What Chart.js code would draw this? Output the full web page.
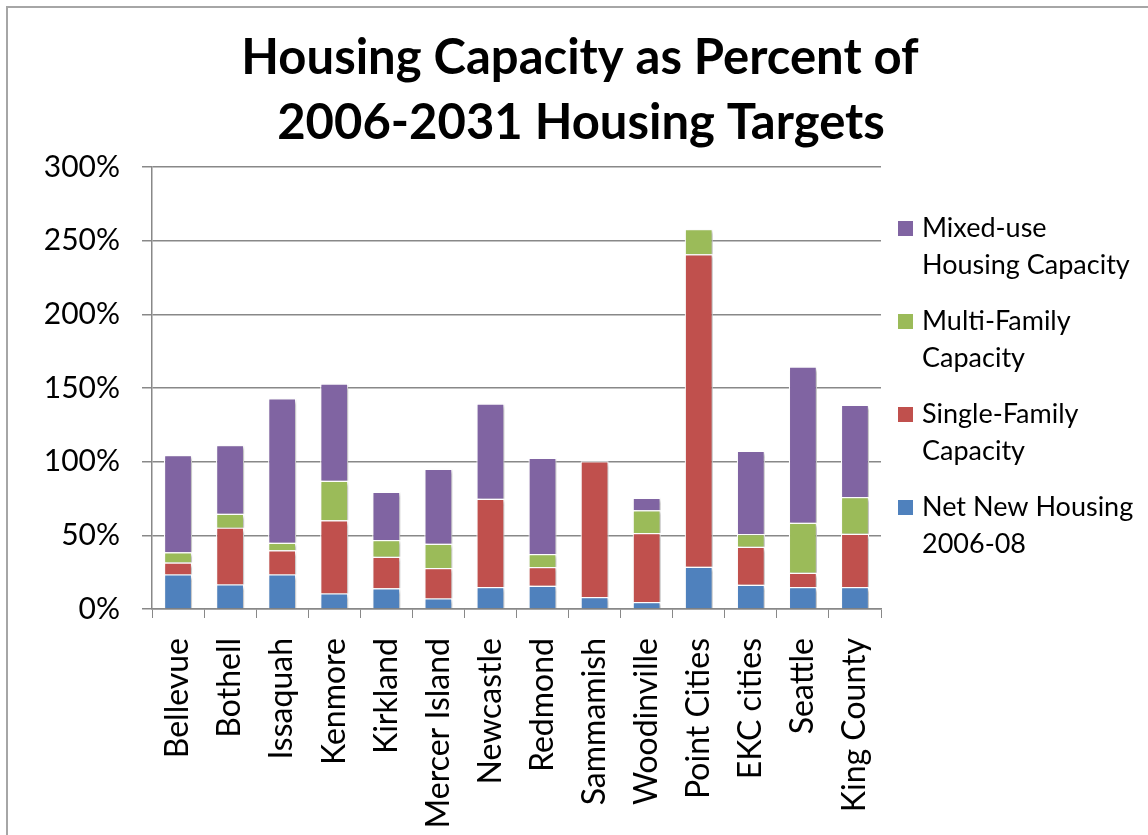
<!DOCTYPE html>
<html>
<head>
<meta charset="utf-8">
<title>Housing Capacity as Percent of 2006-2031 Housing Targets</title>
<script src="https://cdn.jsdelivr.net/npm/chart.js@4.4.0/dist/chart.umd.min.js"></script>
<style>
  html, body { margin: 0; padding: 0; background: #fff; }
  #wrap { width: 1148px; height: 835px; position: relative; }
</style>
</head>
<body>
<div id="wrap"><canvas id="chart"></canvas></div>
<script>
// categories and series (percent of housing target)
const places = ['Bellevue', 'Bothell', 'Issaquah', 'Kenmore', 'Kirkland', 'Mercer Island', 'Newcastle',
    'Redmond', 'Sammamish', 'Woodinville', 'Point Cities', 'EKC cities', 'Seattle', 'King County'];
const netNew       = [23.5, 16.7, 23.5, 10.6, 14.0, 7.2, 14.9, 15.8, 8.1, 4.7, 28.7, 16.5, 14.9, 14.9];
const singleFamily = [8.0, 38.5, 16.3, 49.6, 21.5, 20.6, 59.9, 12.7, 92.1, 46.9, 212.1, 25.8, 9.7, 36.2];
const multiFamily  = [7.0, 9.5, 5.2, 26.8, 11.3, 16.5, 0, 8.8, 0, 15.4, 17.0, 8.6, 33.9, 24.9];
const mixedUse     = [66.0, 46.6, 98.0, 66.0, 32.8, 50.9, 64.7, 65.4, 0, 8.5, 0, 56.5, 106.1, 62.6];
const yTicks = [0, 50, 100, 150, 200, 250, 300];

const titleLines = ['Housing Capacity as Percent of', '2006-2031 Housing Targets'];
const seriesNames = [
    ['Net New Housing', '2006-08'],
    ['Single-Family', 'Capacity'],
    ['Multi-Family', 'Capacity'],
    ['Mixed-use', 'Housing Capacity']
];
const seriesColors = ['#4F81BD', '#C0504D', '#9BBB59', '#8064A2'];
const fontFamily = 'Lato, "Open Sans", sans-serif';

// white page, grey frame line on top and left, and the title over the whole page
const framePlugin = {
    id: 'frame',
    beforeDraw(chart) {
        const ctx = chart.ctx;
        ctx.save();
        ctx.fillStyle = '#fff';
        ctx.fillRect(0, 0, chart.width, chart.height);
        ctx.strokeStyle = '#a6a6a6';
        ctx.lineWidth = 2;
        ctx.beginPath();
        ctx.moveTo(7, chart.height);
        ctx.lineTo(7, 7);
        ctx.lineTo(chart.width, 7);
        ctx.stroke();

        ctx.fillStyle = '#000';
        ctx.font = 'bold 49px ' + fontFamily;
        ctx.textAlign = 'center';
        ctx.textBaseline = 'middle';
        ctx.fillText(titleLines[0], 580, 58);
        ctx.fillText(titleLines[1], 581, 123);
        ctx.restore();
    }
};

// soft shadow behind the bars
const shadowPlugin = {
    id: 'barShadow',
    beforeDatasetsDraw(chart) {
        const ctx = chart.ctx;
        ctx.save();
        ctx.shadowColor = 'rgba(0,0,0,0.28)';
        ctx.shadowBlur = 3;
        ctx.shadowOffsetX = 2;
        ctx.shadowOffsetY = 2;
    },
    afterDatasetsDraw(chart) {
        chart.ctx.restore();
    }
};

// legend on the right, two-line labels, last series on top
const sideLegend = {
    id: 'sideLegend',
    afterDraw(chart) {
        const ctx = chart.ctx;
        const sets = chart.data.datasets;
        ctx.save();
        ctx.font = '27px ' + fontFamily;
        ctx.textBaseline = 'middle';
        ctx.textAlign = 'left';
        let y = 228;
        for (let i = sets.length - 1; i >= 0; i--) {
            const ds = sets[i];
            ctx.fillStyle = ds.backgroundColor;
            ctx.fillRect(898, y - 7, 15, 15);
            ctx.fillStyle = '#000';
            ds.legendLines.forEach((line, k) => ctx.fillText(line, 922, y + k * 37));
            y += 93;
        }
        ctx.restore();
    }
};

const datasets = [netNew, singleFamily, multiFamily, mixedUse].map((values, i) => ({
    label: seriesNames[i].join(' '),
    legendLines: seriesNames[i],
    data: values,
    backgroundColor: seriesColors[i],
    borderColor: '#ffffff',
    borderWidth: 1.2,
    barPercentage: 0.54,
    categoryPercentage: 1.0
}));

new Chart(document.getElementById('chart'), {
    type: 'bar',
    data: { labels: places, datasets: datasets },
    options: {
        responsive: true,
        maintainAspectRatio: false,
        animation: false,
        layout: { padding: { left: 0, right: 267, top: 167, bottom: 0 } },
        plugins: {
            legend: { display: false },
            tooltip: { enabled: false },
            title: { display: false }
        },
        scales: {
            x: {
                stacked: true,
                afterFit(scale) { scale.height = 226; },
                grid: {
                    offset: true,
                    drawOnChartArea: false,
                    tickLength: 9,
                    color: '#888'
                },
                border: { color: '#888', width: 1.5 },
                ticks: {
                    color: '#000',
                    font: { family: fontFamily, size: 32 },
                    minRotation: 90,
                    maxRotation: 90,
                    autoSkip: false,
                    padding: 20
                }
            },
            y: {
                stacked: true,
                min: 0,
                max: 300,
                afterFit(scale) { scale.width = 152; },
                afterBuildTicks(scale) { scale.ticks = yTicks.map(v => ({ value: v })); },
                grid: { color: '#888', lineWidth: 1.5, tickLength: 10 },
                border: { color: '#888', width: 1.5 },
                ticks: {
                    color: '#000',
                    font: { family: fontFamily, size: 30 },
                    padding: 22,
                    callback: v => v + '%'
                }
            }
        }
    },
    plugins: [framePlugin, shadowPlugin, sideLegend]
});
</script>
</body>
</html>
